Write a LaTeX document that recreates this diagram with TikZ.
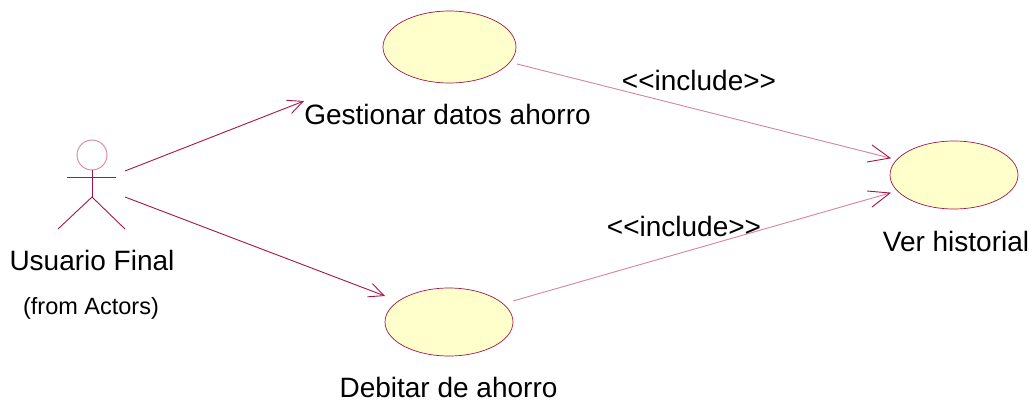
\documentclass[tikz,border=0pt]{standalone}
\usepackage{fontspec}
\setmainfont{Liberation Sans}
\usetikzlibrary{arrows.meta,shapes.geometric}
\definecolor{uc}{RGB}{255,255,204}
\definecolor{ln}{RGB}{165,20,75}
\definecolor{dep}{RGB}{215,130,160}
\tikzset{x=1pt,y=-1pt,
 usecase/.style={ellipse,draw=ln,fill=uc,line width=0.7pt,minimum width=133pt,minimum height=72pt,inner sep=0pt},
 lab/.style={inner sep=0pt,font=\fontsize{28}{32}\selectfont,text=black},
 small/.style={inner sep=0pt,font=\fontsize{23.5}{27}\selectfont,text=black},
 assoc/.style={draw=ln,line width=0.9pt,-{Straight Barb[length=15pt,width=14pt,line width=0.9pt]}},
 incl/.style={draw=dep,line width=0.9pt},
 inclhead/.style={draw=ln,line width=0.9pt},
 actor/.style={draw=ln,line width=0.9pt}}
\begin{document}
\begin{tikzpicture}
\useasboundingbox (0,0) rectangle (1032,401);
\node[usecase] (g) at (449.5,47) {};
\node[usecase,minimum width=128pt,minimum height=68pt] (h) at (954,175) {};
\node[usecase,minimum width=128pt,minimum height=68pt] (d) at (449,322) {};
\node[lab] (gl) at (447.5,114.5) {Gestionar datos ahorro};
\node[lab] (hl) at (956,241.5) {Ver historial};
\node[lab] (dl) at (448.5,387) {Debitar de ahorro};
\node[lab] (af) at (92,260.5) {Usuario Final};
\node[small] (fa) at (91,308) {(from Actors)};
\node[lab] (i1) at (699,80.5) {<{}<include>{}>};
\node[lab] (i2) at (684,226.5) {<{}<include>{}>};
\node[circle,draw=dep,fill=white,line width=0.9pt,minimum size=30pt,inner sep=0pt] (head) at (92,155) {};
\coordinate (hip) at (92,197);
\coordinate (al) at (67,177);
\coordinate (ar) at (116,177);
\coordinate (fl) at (58,229);
\coordinate (fr) at (125,229);
\draw[actor] (head.south) -- (hip);
\draw[actor] (al) -- (ar);
\draw[actor] (fl) -- (hip) -- (fr);
\coordinate (a1s) at (125,171);
\coordinate (a1e) at (304,101);
\coordinate (a2s) at (125,197);
\coordinate (a2e) at (385,296);
\coordinate (i1s) at (517,64);
\coordinate (i1e) at (890,158);
\coordinate (i2s) at (513,301);
\coordinate (i2e) at (890,193);
\coordinate (b1) at (872,145);
\coordinate (b2) at (867,162);
\coordinate (b3) at (867,191);
\coordinate (b4) at (872,207);
\draw[assoc] (a1s) -- (a1e);
\draw[assoc] (a2s) -- (a2e);
\draw[incl] (i1s) -- (i1e);
\draw[incl] (i2s) -- (i2e);
\draw[inclhead] (b1) -- (i1e) -- (b2);
\draw[inclhead] (b3) -- (i2e) -- (b4);
\end{tikzpicture}
\end{document}
